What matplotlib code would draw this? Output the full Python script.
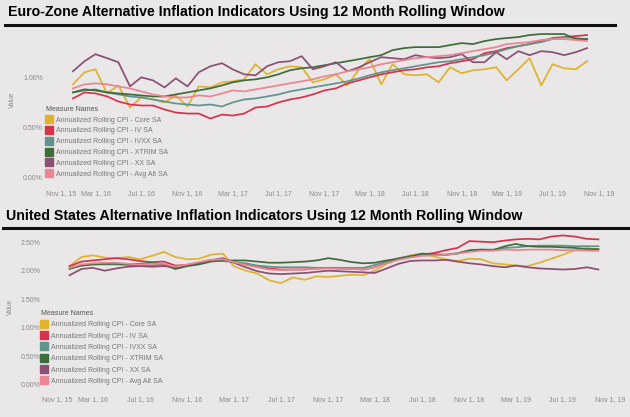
import matplotlib
matplotlib.use("Agg")
import matplotlib.pyplot as plt
import matplotlib.dates as mdates
import pandas as pd
from matplotlib.lines import Line2D

plt.rcParams["font.family"] = ["Liberation Sans", "DejaVu Sans"]

# ── data ──────────────────────────────────────────────
months = pd.date_range("2016-01-01", "2019-10-01", freq="MS")

series_names = [
    "Annualized Rolling CPI - Core SA",
    "Annualized Rolling CPI - IV SA",
    "Annualized Rolling CPI - IVXX SA",
    "Annualized Rolling CPI - XTRIM SA",
    "Annualized Rolling CPI - XX SA",
    "Annualized Rolling CPI - Avg Alt SA",
]

# Euro-Zone (%)
ez_core = [0.93, 1.05, 1.08, 0.84, 0.92, 0.70, 0.80, 0.78, 0.75, 0.82, 0.71, 0.91,
           0.90, 0.95, 0.96, 0.98, 1.13, 1.03, 1.08, 1.11, 1.10, 0.95, 0.98, 1.03,
           0.92, 1.08, 1.18, 0.93, 1.13, 1.03, 1.02, 1.03, 0.95, 1.10, 1.04, 1.07,
           1.08, 1.10, 0.97, 1.08, 1.19, 0.92, 1.13, 1.09, 1.08, 1.16]
ez_iv = [0.79, 0.85, 0.84, 0.81, 0.76, 0.73, 0.72, 0.72, 0.68, 0.65, 0.64, 0.64,
         0.59, 0.63, 0.62, 0.64, 0.70, 0.71, 0.75, 0.78, 0.80, 0.83, 0.87, 0.89,
         0.94, 0.97, 1.00, 1.03, 1.05, 1.07, 1.08, 1.10, 1.11, 1.14, 1.16, 1.18,
         1.24, 1.26, 1.29, 1.31, 1.33, 1.36, 1.39, 1.40, 1.41, 1.42]
ez_ivxx = [0.85, 0.87, 0.88, 0.85, 0.83, 0.81, 0.80, 0.78, 0.76, 0.74, 0.73, 0.72,
           0.73, 0.71, 0.75, 0.78, 0.79, 0.81, 0.83, 0.86, 0.88, 0.90, 0.92, 0.94,
           0.96, 0.99, 1.02, 1.05, 1.07, 1.09, 1.11, 1.13, 1.15, 1.16, 1.18, 1.20,
           1.22, 1.25, 1.28, 1.31, 1.33, 1.35, 1.38, 1.40, 1.39, 1.38]
ez_xtrim = [0.85, 0.88, 0.87, 0.85, 0.84, 0.83, 0.82, 0.81, 0.81, 0.83, 0.85, 0.87,
            0.89, 0.92, 0.95, 0.97, 0.98, 1.00, 1.03, 1.07, 1.09, 1.10, 1.12, 1.14,
            1.16, 1.18, 1.20, 1.22, 1.27, 1.29, 1.30, 1.30, 1.30, 1.32, 1.34, 1.33,
            1.36, 1.38, 1.39, 1.40, 1.42, 1.43, 1.43, 1.43, 1.38, 1.38]
ez_xx = [1.06, 1.16, 1.23, 1.19, 1.15, 0.91, 1.00, 0.97, 0.90, 0.99, 0.91, 1.05,
         1.11, 1.14, 1.08, 1.03, 1.02, 1.11, 1.15, 1.16, 1.21, 1.08, 1.11, 1.15,
         1.06, 1.10, 1.15, 1.20, 1.19, 1.18, 1.22, 1.20, 1.19, 1.20, 1.23, 1.15,
         1.15, 1.25, 1.18, 1.26, 1.22, 1.26, 1.25, 1.22, 1.25, 1.29]
ez_avg = [0.89, 0.93, 0.94, 0.93, 0.91, 0.89, 0.86, 0.83, 0.81, 0.80, 0.80, 0.82,
          0.81, 0.84, 0.87, 0.86, 0.88, 0.90, 0.92, 0.94, 0.96, 0.98, 1.01, 1.03,
          1.06, 1.08, 1.10, 1.13, 1.15, 1.17, 1.19, 1.20, 1.21, 1.22, 1.24, 1.26,
          1.28, 1.30, 1.33, 1.34, 1.35, 1.37, 1.38, 1.38, 1.37, 1.36]

# United States (%)
us_core = [2.08, 2.24, 2.27, 2.23, 2.22, 2.24, 2.20, 2.26, 2.33, 2.24, 2.20, 2.21,
           2.28, 2.30, 2.08, 2.00, 1.95, 1.83, 1.78, 1.88, 1.84, 1.90, 1.89, 1.91,
           1.93, 1.92, 2.00, 2.12, 2.20, 2.27, 2.30, 2.25, 2.20, 2.17, 2.21, 2.20,
           2.13, 2.11, 2.09, 2.08, 2.14, 2.21, 2.28, 2.36, 2.40, 2.37]
us_iv = [2.08, 2.16, 2.18, 2.20, 2.22, 2.20, 2.17, 2.15, 2.16, 2.09, 2.10, 2.14,
         2.19, 2.20, 2.15, 2.11, 2.07, 2.04, 2.02, 2.02, 2.02, 2.04, 2.05, 2.04,
         2.03, 2.02, 2.06, 2.14, 2.20, 2.24, 2.28, 2.31, 2.36, 2.40, 2.52, 2.51,
         2.50, 2.53, 2.55, 2.56, 2.55, 2.60, 2.62, 2.60, 2.56, 2.55]
us_ivxx = [2.05, 2.09, 2.11, 2.11, 2.11, 2.10, 2.08, 2.09, 2.11, 2.05, 2.09, 2.13,
           2.17, 2.17, 2.15, 2.13, 2.09, 2.07, 2.06, 2.06, 2.06, 2.05, 2.05, 2.05,
           2.05, 2.05, 2.10, 2.16, 2.22, 2.26, 2.28, 2.28, 2.28, 2.31, 2.35, 2.37,
           2.37, 2.40, 2.41, 2.43, 2.44, 2.44, 2.44, 2.43, 2.43, 2.43]
us_xtrim = [2.03, 2.09, 2.11, 2.12, 2.12, 2.11, 2.12, 2.14, 2.10, 2.03, 2.08, 2.11,
            2.16, 2.18, 2.18, 2.18, 2.16, 2.14, 2.14, 2.15, 2.16, 2.18, 2.22, 2.19,
            2.15, 2.13, 2.14, 2.18, 2.21, 2.25, 2.30, 2.29, 2.28, 2.30, 2.36, 2.37,
            2.36, 2.43, 2.47, 2.43, 2.42, 2.42, 2.41, 2.40, 2.38, 2.38]
us_xx = [1.92, 2.03, 2.05, 2.00, 2.04, 2.07, 2.08, 2.07, 2.08, 2.06, 2.10, 2.14,
         2.18, 2.22, 2.14, 2.06, 1.99, 1.95, 1.94, 1.95, 1.96, 1.98, 2.00, 1.99,
         1.98, 1.97, 1.96, 2.04, 2.12, 2.17, 2.18, 2.18, 2.19, 2.16, 2.13, 2.11,
         2.08, 2.06, 2.09, 2.06, 2.04, 2.03, 2.02, 2.03, 2.06, 2.02]
us_avg = [2.05, 2.11, 2.13, 2.14, 2.14, 2.12, 2.11, 2.12, 2.12, 2.07, 2.11, 2.15,
          2.19, 2.20, 2.15, 2.10, 2.06, 2.02, 2.01, 2.02, 2.03, 2.03, 2.04, 2.03,
          2.03, 2.02, 2.06, 2.13, 2.19, 2.23, 2.26, 2.27, 2.28, 2.30, 2.33, 2.35,
          2.35, 2.37, 2.36, 2.37, 2.37, 2.37, 2.36, 2.36, 2.35, 2.35]

ez_series = [ez_core, ez_iv, ez_ivxx, ez_xtrim, ez_xx, ez_avg]
us_series = [us_core, us_iv, us_ivxx, us_xtrim, us_xx, us_avg]

tick_dates = pd.date_range("2015-11-01", "2019-11-01", freq="4MS")
tick_labels = ["Nov 1, 15", "Mar 1, 16", "Jul 1, 16", "Nov 1, 16", "Mar 1, 17",
               "Jul 1, 17", "Nov 1, 17", "Mar 1, 18", "Jul 1, 18", "Nov 1, 18",
               "Mar 1, 19", "Jul 1, 19", "Nov 1, 19"]

ez_yticks = [0.0, 0.5, 1.0]
us_yticks = [0.0, 0.5, 1.0, 1.5, 2.0, 2.5]

colors = ["#e0b22e", "#d8324b", "#5f958c", "#3f6c3b", "#8a4f72", "#ea8592"]

# ── style ─────────────────────────────────────────────
BG = "#e9e7e8"
GREY = "#8a8a8a"
W, H = 630, 417

fig = plt.figure(figsize=(W / 100, H / 100), dpi=100)
fig.patch.set_facecolor(BG)


def px_axes(left, top, right, bottom):
    return fig.add_axes([left / W, 1 - bottom / H, (right - left) / W, (bottom - top) / H])


def style_axis(ax, yticks, ylim, ypad):
    ax.set_facecolor("none")
    for s in ax.spines.values():
        s.set_visible(False)
    ax.set_xlim(pd.Timestamp("2015-11-01"), pd.Timestamp("2019-12-01"))
    ax.set_ylim(*ylim)
    ax.set_xticks(tick_dates)
    # first label is clipped to the left edge in the original, so it sits left-aligned
    ax.set_xticklabels([""] + tick_labels[1:])
    ax.annotate(tick_labels[0], xy=(mdates.date2num(tick_dates[0]), 0),
                xycoords=ax.get_xaxis_transform(), xytext=(-3, -5),
                textcoords="offset points", ha="left", va="top",
                fontsize=5, color=GREY)
    ax.set_yticks(yticks)
    ax.set_yticklabels([f"{v:.2f}%" for v in yticks])
    ax.tick_params(axis="both", length=0, labelsize=5, labelcolor=GREY)
    ax.tick_params(axis="x", pad=5)
    ax.tick_params(axis="y", pad=ypad)


def add_legend(ax, x, y, spacing):
    handles = [Line2D([], [], marker="s", ls="", ms=5.5, color=c) for c in colors]
    leg = ax.legend(handles, series_names, title="Measure Names",
                    loc="upper left", bbox_to_anchor=(x / W, 1 - y / H),
                    bbox_transform=fig.transFigure, frameon=False,
                    fontsize=5, title_fontsize=5, handlelength=0.9,
                    handletextpad=0.5, labelspacing=spacing, borderpad=0,
                    borderaxespad=0, alignment="left")
    for t in leg.get_texts():
        t.set_color("#777777")
    leg.get_title().set_color("#555555")


def draw_panel(ax, series):
    for vals, c in zip(series, colors):
        ax.plot(months, vals, color=c, lw=1.25)


# ── Euro-Zone panel ───────────────────────────────────
ax1 = px_axes(50, 28, 610, 183)
draw_panel(ax1, ez_series)
style_axis(ax1, ez_yticks, (-0.05, 1.49), 5)
add_legend(ax1, 46, 106, 0.54)
fig.text(8 / W, 1 - 12 / H, "Euro-Zone Alternative Inflation Indicators Using 12 Month Rolling Window",
         fontsize=10.2, fontweight="bold", va="center", ha="left")
fig.add_artist(Line2D([5 / W, 615 / W], [1 - 25 / H] * 2, color="#111111", lw=2.2))
fig.text(12 / W, 1 - 100 / H, "Value", rotation=90, fontsize=4.8, color=GREY,
         va="center", ha="center")

# ── United States panel ───────────────────────────────
ax2 = px_axes(46, 232, 622, 389)
draw_panel(ax2, us_series)
style_axis(ax2, us_yticks, (-0.08, 2.68), 4)
add_legend(ax2, 41, 310, 0.62)
fig.text(6 / W, 1 - 216 / H, "United States Alternative Inflation Indicators Using 12 Month Rolling Window",
         fontsize=10.2, fontweight="bold", va="center", ha="left")
fig.add_artist(Line2D([3 / W, 628 / W], [1 - 228 / H] * 2, color="#111111", lw=2.2))
fig.text(10 / W, 1 - 307 / H, "Value", rotation=90, fontsize=4.8, color=GREY,
         va="center", ha="center")

fig.savefig("out.png", dpi=100, facecolor=fig.get_facecolor())
